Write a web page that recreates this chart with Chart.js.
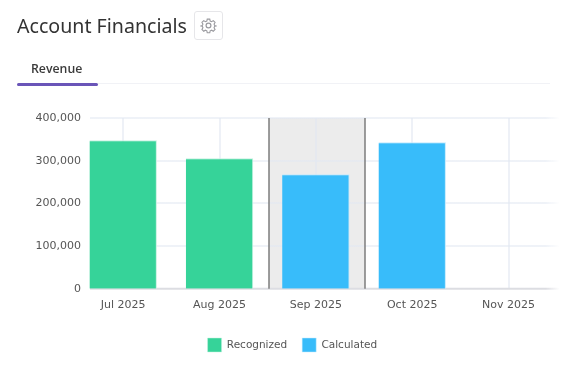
<!DOCTYPE html>
<html>
<head>
<meta charset="utf-8">
<script src="https://cdn.jsdelivr.net/npm/chart.js@4"></script>
<style>
    html, body { margin: 0; padding: 0; background: #fff; width: 567px; height: 378px; overflow: hidden; }
    #chart { position: absolute; left: 0; top: 0; }
    .title { position: absolute; left: 17px; top: 11px; font: 19.6px "Noto Sans", sans-serif; color: #333; line-height: 30px; }
    .settings { position: absolute; left: 194px; top: 11px; width: 27px; height: 27px; border: 1px solid #e6e6e9; border-radius: 3px; }
    .settings svg { position: absolute; left: 5px; top: 5px; }
    .tab { position: absolute; left: 31px; top: 59px; font: 600 12.3px "Open Sans", sans-serif; color: #3a3a3a; line-height: 20px; }
    .tab-rule { position: absolute; left: 17px; top: 83px; width: 533px; height: 1px; background: #f1f2f6; }
    .tab-active { position: absolute; left: 17px; top: 83px; width: 81px; height: 3px; border-radius: 2px; background: #6a55b8; }
</style>
</head>
<body>
<canvas id="chart" width="567" height="378"></canvas>
<div class="title">Account Financials</div>
<div class="settings">
    <svg width="17" height="17" viewBox="0 0 24 24" fill="none" stroke="#9a9a9f" stroke-width="1.7">
        <circle cx="12" cy="12" r="3.4"/>
        <path d="M10 2h4l.6 3 2.3 1 2.6-1.6 2.8 2.8-1.6 2.6 1 2.3 3 .6v0l-3 .6-1 2.3 1.6 2.6-2.8 2.8-2.6-1.6-2.3 1-.6 3h-4l-.6-3-2.3-1-2.6 1.6-2.8-2.8 1.6-2.6-1-2.3-3-.6v0l3-.6 1-2.3-1.6-2.6 2.8-2.8 2.6 1.6 2.3-1z" transform="translate(1.2 1.2) scale(.9)"/>
    </svg>
</div>
<div class="tab">Revenue</div>
<div class="tab-rule"></div>
<div class="tab-active"></div>
<script>
// Data
const categories = ['Jul 2025', 'Aug 2025', 'Sep 2025', 'Oct 2025', 'Nov 2025'];
const recognized = [348000, 306000, null, null, null];
const calculated = [null, null, 268000, 343000, null];
const yTicks = [0, 100000, 200000, 300000, 400000];
const highlightIndex = 2;

const fontFamily = '"DejaVu Sans", sans-serif';

// Pita abu-abu bulan berjalan + garis grid (mulai dari kanan label sumbu y)
const backdropPlugin = {
    id: 'backdrop',
    beforeDraw(chart) {
        // label sumbu y sedikit masuk ke area plot, jangan sampai terpotong
        chart.scales.y.right = 81;
    },
    beforeDatasetsDraw(chart) {
        const { ctx, chartArea, scales } = chart;
        const step = scales.x.getPixelForValue(1) - scales.x.getPixelForValue(0);
        const center = scales.x.getPixelForValue(highlightIndex);
        const left = Math.round(center - step / 2) + 1;
        const right = Math.round(center + step / 2) + 1;
        const gridLeft = 90;
        const gridRight = chartArea.right + 3;
        ctx.save();
        ctx.fillStyle = '#ececec';
        ctx.fillRect(left, chartArea.top, right - left, chartArea.bottom - chartArea.top);

        const fade = ctx.createLinearGradient(gridLeft, 0, gridRight, 0);
        fade.addColorStop(0, 'rgba(226,232,242,0.55)');
        fade.addColorStop(0.97, 'rgba(226,232,242,0.55)');
        fade.addColorStop(1, 'rgba(226,232,242,0)');
        ctx.strokeStyle = fade;
        ctx.lineWidth = 2;
        yTicks.slice(1).forEach(v => {
            const y = Math.round(scales.y.getPixelForValue(v));
            ctx.beginPath();
            ctx.moveTo(gridLeft, y);
            ctx.lineTo(gridRight, y);
            ctx.stroke();
        });
        ctx.strokeStyle = 'rgba(226,232,242,0.6)';
        categories.forEach((c, i) => {
            const x = Math.round(scales.x.getPixelForValue(i));
            ctx.beginPath();
            ctx.moveTo(x, chartArea.top);
            ctx.lineTo(x, chartArea.bottom);
            ctx.stroke();
        });

        const axisFade = ctx.createLinearGradient(gridLeft, 0, gridRight, 0);
        axisFade.addColorStop(0, '#dcdde2');
        axisFade.addColorStop(0.97, '#dcdde2');
        axisFade.addColorStop(1, 'rgba(220,221,226,0)');
        ctx.strokeStyle = axisFade;
        ctx.beginPath();
        ctx.moveTo(gridLeft, chartArea.bottom);
        ctx.lineTo(gridRight, chartArea.bottom);
        ctx.stroke();

        ctx.strokeStyle = '#7d7d7d';
        ctx.lineWidth = 1.5;
        [left, right].forEach(x => {
            ctx.beginPath();
            ctx.moveTo(x, chartArea.top);
            ctx.lineTo(x, chartArea.bottom);
            ctx.stroke();
        });
        ctx.restore();
    }
};

new Chart(document.getElementById('chart'), {
    type: 'bar',
    data: {
        labels: categories,
        datasets: [
            { label: 'Recognized', data: recognized, backgroundColor: '#36d399', borderColor: '#c3f1df', borderWidth: { top: 1, left: 0, right: 1, bottom: 0 } },
            { label: 'Calculated', data: calculated, backgroundColor: '#38bcfa', borderColor: '#c0e9fd', borderWidth: { top: 1, left: 0, right: 1, bottom: 0 } }
        ]
    },
    options: {
        responsive: false,
        animation: false,
        layout: { padding: { top: 118, right: 10.3, bottom: 16, left: 28 } },
        datasets: { bar: { barPercentage: 0.7, categoryPercentage: 1 } },
        plugins: {
            tooltip: { enabled: false },
            title: { display: false },
            legend: {
                display: true,
                position: 'bottom',
                labels: {
                    boxWidth: 14,
                    boxHeight: 14,
                    padding: 15,
                    color: '#555',
                    font: { family: fontFamily, size: 10.5 }
                }
            }
        },
        scales: {
            x: {
                stacked: true,
                afterFit(axis) { axis.height += 9; },
                grid: { display: false },
                border: { display: false },
                ticks: { color: '#555', padding: 2, font: { family: fontFamily, size: 11 }, maxRotation: 0 }
            },
            y: {
                stacked: true,
                min: 0,
                max: 400000,
                afterBuildTicks(axis) { axis.ticks = yTicks.map(v => ({ value: v })); },
                afterFit(axis) { axis.width = 47; },
                grid: { display: false, drawTicks: false },
                border: { display: false },
                ticks: {
                    color: '#555',
                    padding: 0,
                    font: { family: fontFamily, size: 11 },
                    callback: v => v.toLocaleString('en-US')
                }
            }
        }
    },
    plugins: [backdropPlugin]
});
</script>
</body>
</html>
